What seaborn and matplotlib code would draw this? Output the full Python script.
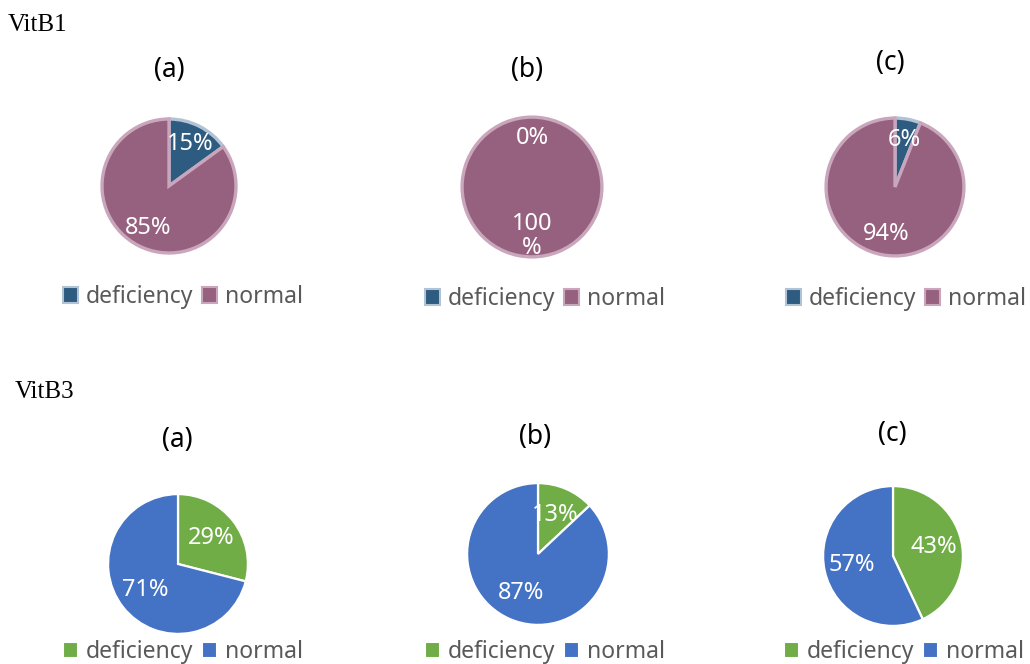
import matplotlib
matplotlib.use("Agg")
import matplotlib.pyplot as plt
import matplotlib.patches as mpatches
import seaborn as sns

# data
vitamins = ["VitB1", "VitB3"]
groups = ["(a)", "(b)", "(c)"]
status = ["deficiency", "normal"]
vitb1_deficiency = [15, 0, 6]
vitb1_normal = [85, 100, 94]
vitb3_deficiency = [29, 13, 43]
vitb3_normal = [71, 87, 57]

sns.set_theme(style="white")
plt.rcParams["font.family"] = ["Noto Sans", "DejaVu Sans"]

W, H = 1030, 664
fig = plt.figure(figsize=(W / 100, H / 100), dpi=100)

# pie centre / radius in pixels for each panel, row by row
layout = [
    [(169, 186, 69), (532, 187, 72), (895, 187, 71)],
    [(178, 564, 72), (538, 554, 73), (893, 556, 72)],
]
title_y = [[70, 70, 63], [440, 437, 434]]
title_x = [[169, 527, 890], [177, 535, 892]]
legend_pos = [[(183, 297), (545, 299), (906, 299)],
              [(183, 652), (545, 652), (904, 652)]]
heading_pos = [(8, 25), (15, 392)]

row_styles = [
    dict(colors=["#2E5B80", "#96607F"], edges=["#B3C3D6", "#C9A6BC"], lw=2.4,
         pctdist=0.7),
    dict(colors=["#70AD47", "#4472C4"], edges=["white", "white"], lw=1.6,
         pctdist=0.6),
]
row_data = [(vitb1_deficiency, vitb1_normal), (vitb3_deficiency, vitb3_normal)]


def pct_label(p):
    # Excel wrapped the long label onto two lines
    if round(p) == 100:
        return "100\n%"
    return f"{p:.0f}%"


for r, vit in enumerate(vitamins):
    style = row_styles[r]
    defic, norm = row_data[r]
    fig.text(heading_pos[r][0] / W, 1 - heading_pos[r][1] / H, vit,
             family=["Liberation Serif", "DejaVu Serif"], fontsize=18,
             color="black", ha="left", va="center")
    for c, grp in enumerate(groups):
        cx, cy, rad = layout[r][c]
        ax = fig.add_axes([(cx - rad) / W, (H - cy - rad) / H, 2 * rad / W, 2 * rad / H])
        wedges, _, autotexts = ax.pie(
            [defic[c], norm[c]], colors=style["colors"], startangle=90,
            counterclock=False, autopct=pct_label, pctdistance=style["pctdist"],
            wedgeprops=dict(linewidth=style["lw"]),
            textprops=dict(color="white", fontsize=17))
        for w, ec in zip(wedges, style["edges"]):
            w.set_edgecolor(ec)
        for t in autotexts:
            t.set_linespacing(1.0)
        ax.set_xlim(-1.03, 1.03)
        ax.set_ylim(-1.03, 1.03)
        ax.set_aspect("equal")
        ax.axis("off")

        fig.text(title_x[r][c] / W, 1 - title_y[r][c] / H, grp, fontsize=19,
                 color="black", ha="center", va="center")

        handles = [mpatches.Patch(facecolor=fc, edgecolor=ec, linewidth=1.5)
                   for fc, ec in zip(style["colors"], style["edges"])]
        lx, ly = legend_pos[r][c]
        fig.legend(handles, status, loc="center",
                   bbox_to_anchor=(lx / W, 1 - ly / H), ncol=2, frameon=False,
                   fontsize=16.5, handlelength=0.65, handleheight=0.65,
                   handletextpad=0.35, columnspacing=0.4, labelcolor="#595959",
                   borderaxespad=0, borderpad=0)

fig.savefig("out.png", dpi=100)
